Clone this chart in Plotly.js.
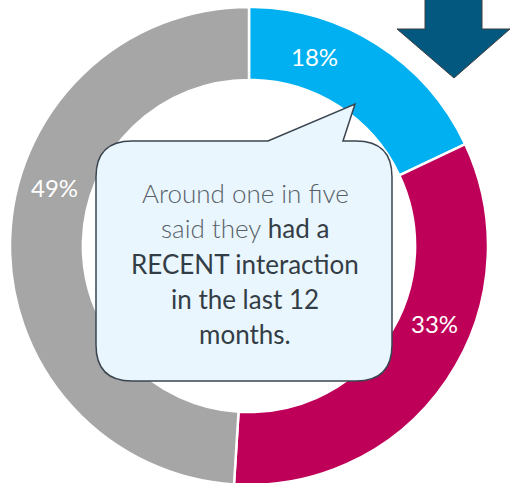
<!DOCTYPE html>
<html><head><meta charset="utf-8">
<script src="https://cdn.plot.ly/plotly-3.0.1.min.js"></script>
<style>html,body{margin:0;padding:0;overflow:hidden;background:#fff}</style>
</head><body><div id="chart"></div>
<script>
const categories = ["Recent interaction", "Other", "No interaction"];
const values = [18, 33, 49];
const sliceColors = ["#00B0F0", "#BE0059", "#A6A6A6"];
const calloutText = ["Around one in five", "said they ", "had a", "RECENT interaction", "in the last 12", "months."];

const W = 523, H = 490;
const px = x => x / W;
const py = y => 1 - y / H;
function pt(x, y) { return px(x).toFixed(5) + "," + py(y).toFixed(5); }

// callout bubble path (pixel geometry converted to paper)
const L = 96, T = 141, R = 392, B = 381, r = 36;
const bubble = "M" + pt(L + r, T) + " L" + pt(268, T) + " L" + pt(355, 104) + " L" + pt(343, T) +
  " L" + pt(R - r, T) + " Q" + pt(R, T) + " " + pt(R, T + r) + " L" + pt(R, B - r) +
  " Q" + pt(R, B) + " " + pt(R - r, B) + " L" + pt(L + r, B) + " Q" + pt(L, B) + " " + pt(L, B - r) +
  " L" + pt(L, T + r) + " Q" + pt(L, T) + " " + pt(L + r, T) + " Z";

const arrow = "M" + pt(425, -5) + " L" + pt(482, -5) + " L" + pt(482, 29) + " L" + pt(510, 29) +
  " L" + pt(454, 78) + " L" + pt(397, 29) + " L" + pt(425, 29) + " Z";

const labelPos = [[314, 57], [434, 323], [54, 188]];
const labelAnn = values.map((v, i) => ({
  xref: "paper", yref: "paper", x: px(labelPos[i][0]), y: py(labelPos[i][1]),
  text: v + "%", showarrow: false, xanchor: "center", yanchor: "middle",
  font: {family: "Lato, 'Open Sans', sans-serif", size: 24, color: "#FFFFFF"}
}));

const light = "color:#57616a;font-weight:300";
const dark = "color:#333d46";
const lineYs = [193, 228, 264, 299, 334];
const lineTexts = [
  '<span style="' + light + '">' + calloutText[0] + '</span>',
  '<span style="' + light + '">' + calloutText[1] + '</span><span style="' + dark + '">' + calloutText[2] + '</span>',
  '<span style="' + dark + '">' + calloutText[3] + '</span>',
  '<span style="' + dark + '">' + calloutText[4] + '</span>',
  '<span style="' + dark + '">' + calloutText[5] + '</span>'
];
const textAnn = lineTexts.map((t, i) => ({
  xref: "paper", yref: "paper", x: px(245), y: py(lineYs[i]),
  text: t, showarrow: false, xanchor: "center", yanchor: "middle",
  font: {family: "Lato, 'Open Sans', sans-serif", size: 26, color: "#333d46"}
}));

const data = [{
  type: "pie",
  labels: categories,
  values: values,
  hole: 0.695,
  sort: false,
  direction: "clockwise",
  rotation: 0,
  textinfo: "none",
  hoverinfo: "label+percent",
  marker: {colors: sliceColors, line: {color: "#FFFFFF", width: 2.5}},
  domain: {x: [10 / W, 488 / W], y: [1 - 485 / H, 1 - 7 / H]}
}];

const layout = {
  width: W, height: H,
  margin: {l: 0, r: 0, t: 0, b: 0},
  paper_bgcolor: "#FFFFFF",
  showlegend: false,
  shapes: [
    {type: "path", xref: "paper", yref: "paper", path: arrow,
     fillcolor: "#02587F", line: {color: "#3F3F3F", width: 1}},
    {type: "path", xref: "paper", yref: "paper", path: bubble,
     fillcolor: "#EAF6FD", line: {color: "#3A4550", width: 1.5}}
  ],
  annotations: labelAnn.concat(textAnn)
};

Plotly.newPlot("chart", data, layout, {displayModeBar: false, staticPlot: true});
</script></body></html>
